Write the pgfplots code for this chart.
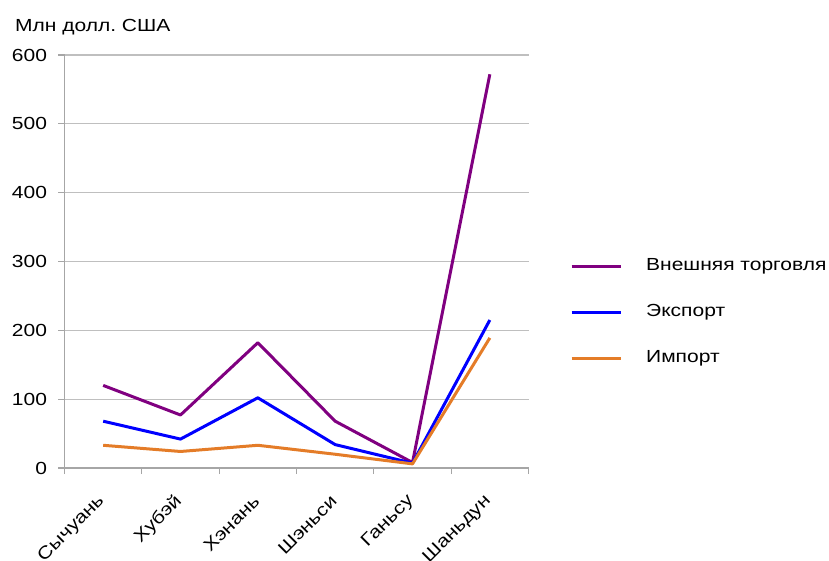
\documentclass[border=0pt]{standalone}
\usepackage{pgfplots}
\pgfplotsset{compat=1.18}
\usepackage{pgfplotstable}
\usepackage{fontspec}
\setmainfont{Liberation Sans}[FakeStretch=1.2]
\frenchspacing
\definecolor{cTrade}{RGB}{128,0,128}
\definecolor{cExp}{RGB}{0,0,255}
\definecolor{cImp}{RGB}{228,124,40}
\definecolor{gridgray}{RGB}{191,191,191}
\definecolor{axgray}{RGB}{166,166,166}

\pgfplotstableread{
x trade exp imp
0 120 68 33
1 77 42 24
2 182 102 33
3 68 34 20
4 8 7 6
5 572 215 189
}\data

\begin{document}
\begin{tikzpicture}
\useasboundingbox (0,0) rectangle (829pt,560pt);
\node[anchor=base west, font=\fontsize{17.5}{20}\selectfont, inner sep=0pt] at (15pt,528pt) {Млн долл. США};
\begin{axis}[
  at={(64.5pt,92pt)}, anchor=south west,
  scale only axis, width=464pt, height=413pt,
  xmin=-0.5, xmax=5.5, ymin=0, ymax=600,
  axis x line*=bottom, axis y line*=left,
  axis line style={axgray, line width=1.2pt},
  xtick={-0.5,0.5,1.5,2.5,3.5,4.5,5.5}, xticklabels={},
  extra x ticks={0,1,2,3,4,5},
  extra x tick labels={Сычуань,Хубэй,Хэнань,Шэньси,Ганьсу,Шаньдун},
  extra x tick style={major tick length=0pt, grid=none},
  ytick={0,100,...,600},
  ymajorgrids, grid style={gridgray, line width=1.2pt},
  tick align=outside, major tick length=6pt,
  tick style={axgray, line width=1.2pt},
  ticklabel style={font=\fontsize{17.5}{20}\selectfont},
  /pgf/number format/assume math mode=true,
  yticklabel style={xshift=-8pt},
  xticklabel style={xshift=1pt, yshift=-28pt, rotate=45, anchor=east},
  legend style={draw=none, fill=none, at={(1.0894,0.3777)}, anchor=west,
    inner sep=0pt, row sep=30pt, column sep=24pt,
    font=\fontsize{17.5}{20}\selectfont,
    nodes={inner sep=0pt, text height=12pt, text depth=4pt}},
  legend cell align=left,
  legend image code/.code={\draw[#1] (0pt,0pt) -- (49pt,0pt);},
]
\addplot[cTrade, line width=3pt, line join=round] table[x=x,y=trade]{\data};
\addlegendentry{Внешняя торговля}
\addplot[cExp, line width=3pt, line join=round] table[x=x,y=exp]{\data};
\addlegendentry{Экспорт}
\addplot[cImp, line width=3pt, line join=round] table[x=x,y=imp]{\data};
\addlegendentry{Импорт}
\end{axis}
\end{tikzpicture}
\end{document}
